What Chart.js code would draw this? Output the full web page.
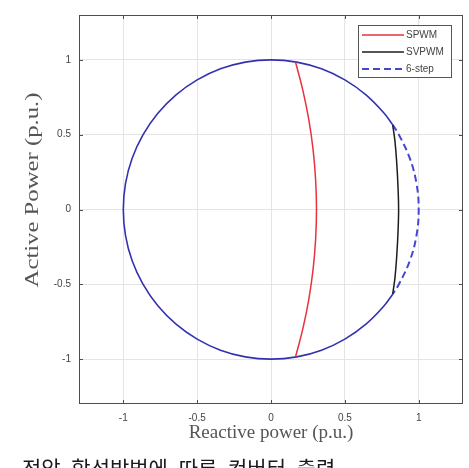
<!DOCTYPE html>
<html>
<head>
<meta charset="utf-8">
<script src="https://cdn.jsdelivr.net/npm/chart.js@4.4.0/dist/chart.umd.min.js"></script>
<style>
  html, body { margin: 0; padding: 0; background: #fff; overflow: hidden; }
  #wrap { position: relative; width: 469px; height: 468px; overflow: hidden; }
  #caption {
    position: absolute; left: 22px; top: 457px; white-space: nowrap;
    font-family: "Noto Sans CJK KR", sans-serif; font-size: 21px; line-height: 1;
    word-spacing: 6px; color: #1a1a1a;
  }
</style>
</head>
<body>
<div id="wrap">
  <canvas id="pq" width="469" height="468"></canvas>
  <div id="caption">전압 합성방법에 따른 컨버터 출력</div>
</div>
<script>
// tick labels
const xTicks = [-1, -0.5, 0, 0.5, 1];
const yTicks = [-1, -0.5, 0, 0.5, 1];
const yTitle = 'Active Power (p.u.)';

// SPWM limit (red arc)
const spwmX = [0.166, 0.215, 0.256, 0.285, 0.302, 0.308, 0.302, 0.285, 0.256, 0.215, 0.166];
const spwmY = [0.986, 0.8, 0.6, 0.4, 0.2, 0, -0.2, -0.4, -0.6, -0.8, -0.986];

// SVPWM limit (black arc)
const svpwmX = [0.824, 0.840, 0.852, 0.860, 0.864, 0.860, 0.852, 0.840, 0.824];
const svpwmY = [0.566, 0.45, 0.3, 0.15, 0, -0.15, -0.3, -0.45, -0.566];

// 6-step limit (blue dashed arc)
const sixX = [0.824, 0.866, 0.940, 0.985, 1.0, 0.985, 0.940, 0.866, 0.824];
const sixY = [0.566, 0.5, 0.342, 0.174, 0, -0.174, -0.342, -0.5, -0.566];

// common current limit (circle, left part)
const circX = [0.824, 0.766, 0.643, 0.5, 0.342, 0.174, 0, -0.174, -0.342, -0.5, -0.643, -0.766, -0.866, -0.940, -0.985, -1.0,
               -0.985, -0.940, -0.866, -0.766, -0.643, -0.5, -0.342, -0.174, 0, 0.174, 0.342, 0.5, 0.643, 0.766, 0.824];
const circY = [0.566, 0.643, 0.766, 0.866, 0.940, 0.985, 1.0, 0.985, 0.940, 0.866, 0.766, 0.643, 0.5, 0.342, 0.174, 0,
               -0.174, -0.342, -0.5, -0.643, -0.766, -0.866, -0.940, -0.985, -1.0, -0.985, -0.940, -0.866, -0.766, -0.643, -0.566];

function pts(xs, ys) {
    return xs.map((x, i) => ({x: x, y: ys[i]}));
}

const boxPlugin = {
    id: 'box',
    afterDatasetsDraw(chart) {
        const {ctx, chartArea: a, scales} = chart;
        ctx.save();
        ctx.strokeStyle = '#4d4d4d';
        ctx.lineWidth = 1;
        ctx.strokeRect(a.left + 0.5, a.top + 0.5, a.right - a.left - 1, a.bottom - a.top - 1);
        // inward ticks, all four sides
        ctx.beginPath();
        xTicks.forEach(v => {
            const px = Math.round(scales.x.getPixelForValue(v)) + 0.5;
            ctx.moveTo(px, a.bottom); ctx.lineTo(px, a.bottom - 4);
            ctx.moveTo(px, a.top); ctx.lineTo(px, a.top + 4);
        });
        yTicks.forEach(v => {
            const py = Math.round(scales.y.getPixelForValue(v)) + 0.5;
            ctx.moveTo(a.left, py); ctx.lineTo(a.left + 4, py);
            ctx.moveTo(a.right, py); ctx.lineTo(a.right - 4, py);
        });
        ctx.stroke();

        // legend box in the upper right corner
        const items = chart.data.datasets.filter(d => d.label);
        const bx = a.right - 105, by = a.top + 10, bw = 93, bh = 52;
        ctx.fillStyle = '#fff';
        ctx.fillRect(bx, by, bw, bh);
        ctx.strokeStyle = '#555';
        ctx.strokeRect(bx + 0.5, by + 0.5, bw, bh);
        ctx.font = '10px "Liberation Sans", Arial, sans-serif';
        ctx.textBaseline = 'middle';
        items.forEach((d, i) => {
            const y = by + 10 + i * 17;
            ctx.strokeStyle = d.borderColor;
            ctx.lineWidth = d.borderWidth;
            ctx.setLineDash(d.borderDash || []);
            ctx.beginPath();
            ctx.moveTo(bx + 4, y); ctx.lineTo(bx + 46, y);
            ctx.stroke();
            ctx.setLineDash([]);
            ctx.fillStyle = '#444';
            ctx.fillText(d.label, bx + 48, y);
        });

        // y title, a little stretched along its length like the original
        ctx.translate(33, 190);
        ctx.rotate(-Math.PI / 2);
        ctx.scale(1.3, 1);
        ctx.font = '19px "Liberation Serif", "Times New Roman", serif';
        ctx.fillStyle = '#555';
        ctx.textAlign = 'center';
        ctx.textBaseline = 'middle';
        ctx.fillText(yTitle, 0, 0);
        ctx.restore();
    }
};

new Chart('pq', {
    type: 'scatter',
    data: {
        datasets: [{
            label: 'SPWM',
            data: pts(spwmX, spwmY),
            borderColor: '#e8323c',
            borderWidth: 1.5
        }, {
            label: 'SVPWM',
            data: pts(svpwmX, svpwmY),
            borderColor: '#1e1e1e',
            borderWidth: 1.5
        }, {
            label: '6-step',
            data: pts(sixX, sixY),
            borderColor: '#4646d2',
            borderWidth: 2,
            borderDash: [7, 4]
        }, {
            label: '',
            data: pts(circX, circY),
            borderColor: '#3232b0',
            borderWidth: 1.6
        }].map(d => Object.assign(d, {showLine: true, pointRadius: 0, tension: 0.4, fill: false}))
    },
    options: {
        responsive: false,
        animation: false,
        layout: {padding: {top: 15, right: 6, left: 0, bottom: 0}},
        plugins: {legend: {display: false}, tooltip: {enabled: false}},
        scales: {
            x: {
                type: 'linear', min: -1.3, max: 1.3,
                afterFit(s) { s.height = 64; },
                afterBuildTicks(s) { s.ticks = xTicks.map(v => ({value: v})); },
                grid: {color: '#e4e4e4', drawTicks: false},
                border: {display: false},
                ticks: {
                    padding: 8, color: '#444', maxRotation: 0,
                    font: {family: '"Liberation Sans", Arial, sans-serif', size: 10},
                    callback: v => String(v)
                },
                title: {
                    display: true, text: 'Reactive power (p.u.)', color: '#555',
                    font: {family: '"Liberation Serif", "Times New Roman", serif', size: 19},
                    padding: {top: 0, bottom: 24}
                }
            },
            y: {
                type: 'linear', min: -1.3, max: 1.3,
                afterFit(s) { s.width = 79; },
                afterBuildTicks(s) { s.ticks = yTicks.map(v => ({value: v})); },
                grid: {color: '#e4e4e4', drawTicks: false},
                border: {display: false},
                ticks: {
                    padding: 8, color: '#444',
                    font: {family: '"Liberation Sans", Arial, sans-serif', size: 10},
                    callback: v => String(v)
                },
                title: {display: false}
            }
        }
    },
    plugins: [boxPlugin]
});
</script>
</body>
</html>
